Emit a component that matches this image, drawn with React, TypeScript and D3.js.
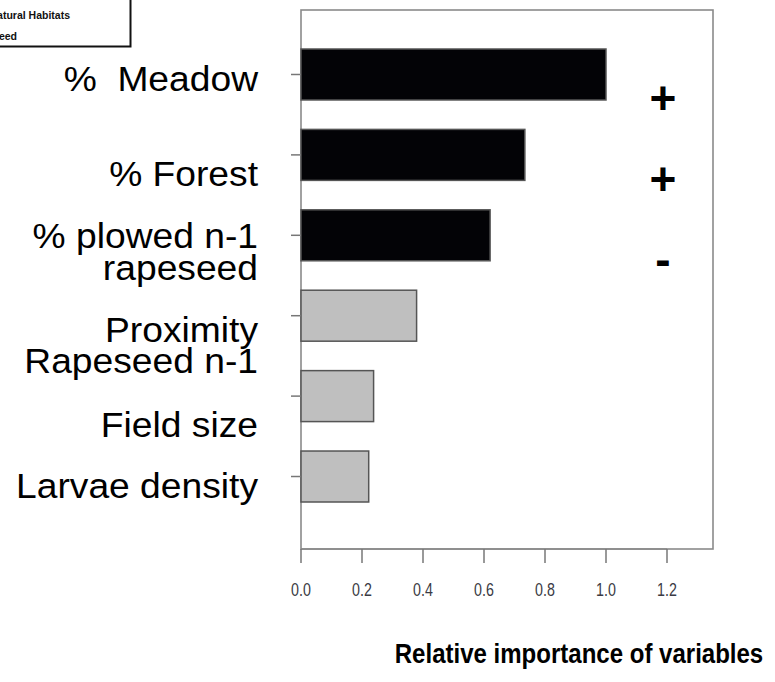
import React from "react";
import * as d3 from "d3";

const categories = ["Meadow", "Forest", "Plowed", "Proximity", "FieldSize", "Larvae"];
const labelLines = [
  ["%  Meadow"],
  ["% Forest"],
  ["% plowed n-1", "rapeseed"],
  ["Proximity", "Rapeseed n-1"],
  ["Field size"],
  ["Larvae density"],
];
const importance = [1.0, 0.734, 0.62, 0.379, 0.238, 0.222];
const groups = ["habitat", "habitat", "habitat", "other", "other", "other"];
const signs = ["+", "+", "-", "", "", ""];
const xTicks = [0, 0.2, 0.4, 0.6, 0.8, 1.0, 1.2];
const legendLabels = ["Semi-natural Habitats", "Rapeseed"];
const xTitle = "Relative importance of variables";

// label baseline positions (layout)
const labelBaselines = [[90.7], [186], [248, 279.5], [342, 373.3], [436.7], [498.3]];

export default function App() {
  const W = 775, H = 682;
  const x = d3.scaleLinear().domain([0, 1.2]).range([301, 667]);
  const y = d3.scaleBand<string>().domain(categories).range([49, 502]).paddingInner(0.366).paddingOuter(0);
  const box = { x0: 301, x1: 713, y0: 10, y1: 549 };
  const fill = (g: string) => (g === "habitat" ? "#030306" : "#bfbfbf");
  const stroke = (g: string) => (g === "habitat" ? "#555" : "#555");
  const fmt = d3.format(".1f");

  return (
    <svg width={W} height={H} style={{ position: "absolute", left: 0, top: 0, background: "#fff" }}
      fontFamily="'Liberation Sans', Arial, sans-serif">
      {/* clipped legend box */}
      <rect x={-20} y={-20} width={150.5} height={66.5} fill="#fff" stroke="#111" strokeWidth={2} />
      <text x={70} y={19} textAnchor="end" fontSize={10.5} fontWeight="bold" fill="#111">{legendLabels[0]}</text>
      <text x={17} y={40} textAnchor="end" fontSize={10.5} fontWeight="bold" fill="#111">{legendLabels[1]}</text>

      {/* plot box */}
      <rect x={box.x0} y={box.y0} width={box.x1 - box.x0} height={box.y1 - box.y0} fill="none" stroke="#8a8a8a" strokeWidth={1.6} />

      {/* bars */}
      {categories.map((c, i) => (
        <rect key={c} x={x(0)} y={y(c)!} width={x(importance[i]) - x(0)} height={y.bandwidth()}
          fill={fill(groups[i])} stroke={stroke(groups[i])} strokeWidth={1.5} />
      ))}

      {/* left ticks */}
      {categories.map((c) => {
        const cy = y(c)! + y.bandwidth() / 2;
        return <line key={"t" + c} x1={291} x2={box.x0} y1={cy} y2={cy} stroke="#777" strokeWidth={1.5} />;
      })}

      {/* category labels */}
      {categories.map((c, i) => (
        <g key={"l" + c}>
          {labelLines[i].map((ln, j) => (
            <text key={j} transform={`translate(258,${labelBaselines[i][j]}) scale(1.048,1)`} textAnchor="end"
              fontSize={35.5} fill="#000" style={{ whiteSpace: "pre" }}>{ln}</text>
          ))}
        </g>
      ))}

      {/* signs */}
      {categories.map((c, i) =>
        signs[i] ? (
          <text key={"s" + c} x={663} y={y(c)! + y.bandwidth() / 2 + 40} textAnchor="middle" fontSize={46}
            fontWeight="bold" fill="#000">{signs[i]}</text>
        ) : null
      )}

      {/* x axis */}
      <line x1={x(0)} x2={x(1.2)} y1={box.y1} y2={box.y1} stroke="#8a8a8a" strokeWidth={1.5} />
      {xTicks.map((t) => (
        <g key={"x" + t}>
          <line x1={x(t)} x2={x(t)} y1={box.y1} y2={563} stroke="#777" strokeWidth={1.5} />
          <text transform={`translate(${x(t)},596) scale(0.75,1)`} textAnchor="middle" fontSize={19} fill="#3a3a44">{fmt(t)}</text>
        </g>
      ))}

      <text transform="translate(579,663) scale(0.89,1)" textAnchor="middle" fontSize={27} fontWeight="bold" fill="#000">{xTitle}</text>
    </svg>
  );
}
